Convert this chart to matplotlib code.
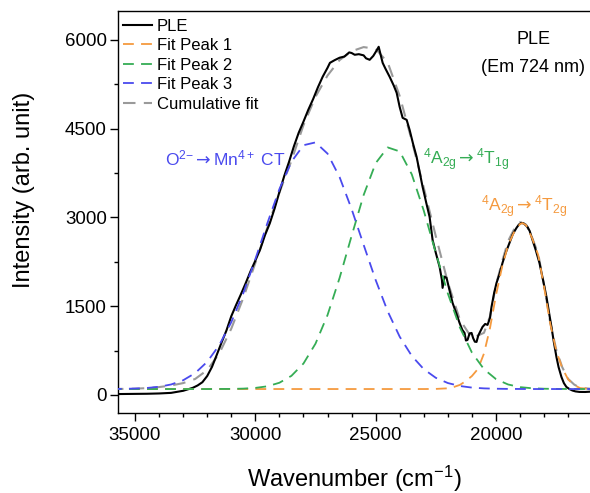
import matplotlib
matplotlib.use('Agg')
import matplotlib.pyplot as plt
from matplotlib.ticker import MultipleLocator

plt.rcParams['font.family'] = ['Liberation Sans', 'DejaVu Sans']
plt.rcParams['mathtext.fontset'] = 'custom'
plt.rcParams['mathtext.rm'] = 'Liberation Sans'
plt.rcParams['mathtext.it'] = 'Liberation Sans:italic'
plt.rcParams['mathtext.sf'] = 'DejaVu Sans'
plt.rcParams['mathtext.default'] = 'regular'

# measured PLE spectrum (wavenumber, intensity)
ple_x = [35700, 35000, 34500, 34000, 33500, 33000, 32800, 32600, 32400, 32200,
         32000, 31800, 31600, 31400, 31200, 31000, 30800, 30600, 30400, 30200,
         30000, 29800, 29600, 29400, 29200, 29000, 28800, 28600, 28400, 28200,
         28000, 27800, 27600, 27400, 27200, 27000, 26900, 26700, 26500, 26300,
         26100, 26000, 25870, 25700, 25500, 25400, 25250, 25100, 24950, 24875,
         24800, 24710, 24600, 24420, 24250, 24128, 24004, 23880, 23713, 23590,
         23450, 23300, 23050, 22900, 22760, 22635, 22500, 22344, 22250, 22220,
         22140, 22054, 21950, 21805, 21650, 21515, 21400, 21307, 21250, 21183,
         21100, 21016, 20950, 20880, 20809, 20740, 20685, 20560, 20450, 20353,
         20250, 20187, 20080, 19979, 19850, 19730, 19600, 19440, 19300, 19149,
         19050, 18942, 18850, 18693, 18600, 18485, 18350, 18195, 18050, 17904,
         17800, 17697, 17600, 17490, 17400, 17282, 17180, 17075, 16950, 16826,
         16700, 16535, 16300, 16100]
ple_y = [15, 18, 20, 25, 35, 70, 95, 120, 160, 215,
         320, 475, 680, 890, 1090, 1330, 1520, 1700, 1890, 2090,
         2270, 2460, 2700, 2900, 3150, 3430, 3700, 3940, 4200, 4430,
         4620, 4820, 5000, 5200, 5380, 5530, 5614, 5660, 5700, 5720,
         5790, 5780, 5750, 5760, 5740, 5690, 5665, 5730, 5830, 5885,
         5760, 5614, 5520, 5378, 5230, 5107, 4870, 4684, 4650, 4481,
         4250, 4025, 3517, 3250, 3010, 2621, 2400, 2165, 1950, 1810,
         2000, 1979, 1800, 1556, 1380, 1218, 1100, 1048, 920, 930,
         1040, 1048, 960, 900, 896, 1000, 1048, 1150, 1200, 1184,
         1300, 1488, 1720, 1894, 2050, 2232, 2400, 2570, 2720, 2824,
         2880, 2909, 2900, 2841, 2770, 2621, 2450, 2232, 1950, 1657,
         1400, 1150, 900, 643, 470, 304, 200, 135, 100, 75,
         60, 51, 50, 55]

# fit components
fit_x = [36000, 35500, 35000, 34500, 34000, 33500, 33000, 32500, 32000, 31500,
         31000, 30500, 30000, 29500, 29000, 28500, 28000, 27500, 27000, 26500,
         26000, 25500, 25000, 24500, 24000, 23500, 23000, 22500, 22000, 21500,
         21000, 20500, 20000, 19500, 19000, 18500, 18000, 17500, 17000, 16500,
         16000]
peak3_y = [101, 103, 108, 118, 138, 177, 248, 369, 560, 841,
           1229, 1720, 2295, 2903, 3479, 3942, 4221, 4269, 4079, 3683,
           3142, 2537, 1942, 1413, 983, 660, 435, 289, 201, 151,
           124, 111, 105, 102, 101, 100, 100, 100, 100, 100,
           100]
peak2_y = [100, 100, 100, 100, 100, 100, 100, 100, 100, 101,
           102, 107, 119, 146, 206, 323, 531, 867, 1351, 1977,
           2688, 3379, 3918, 4184, 4116, 3729, 3113, 2399, 1713, 1139,
           715, 435, 267, 177, 132, 113, 105, 102, 101, 100,
           100]

peak1_x = [36000, 23000, 22500, 22000, 21750, 21500, 21250, 21000, 20750, 20500,
           20250, 20000, 19750, 19500, 19250, 19000, 18900, 18750, 18500, 18250,
           18000, 17750, 17500, 17250, 17000, 16750, 16500, 16000]
peak1_y = [100, 100, 102, 112, 135, 170, 235, 320, 440, 700,
           1130, 1690, 2160, 2530, 2750, 2890, 2905, 2870, 2650, 2370,
           1820, 1210, 750, 455, 260, 165, 115, 100]

cum_x = [36000, 35500, 35000, 34500, 34000, 33500, 33000, 32500, 32000, 31500,
         31000, 30500, 30000, 29500, 29000, 28500, 28000, 27500, 27000, 26500,
         26000, 25500, 25000, 24500, 24000, 23500, 23000, 22500, 22000, 21500,
         21000, 20500, 20250, 20000, 19750, 19500, 19250, 19000, 18750, 18500,
         18250, 18000, 17750, 17500, 17250, 17000, 16750, 16500, 16000]
cum_y = [100, 102, 106, 115, 133, 160, 200, 270, 420, 700,
         1120, 1640, 2230, 2830, 3420, 3960, 4560, 5040, 5400, 5660,
         5810, 5880, 5850, 5620, 5050, 4300, 3500, 2680, 1900, 1270,
         960, 1050, 1330, 1860, 2250, 2600, 2800, 2920, 2880, 2660,
         2390, 1850, 1230, 770, 470, 270, 175, 120, 102]

c_orange = '#F59A3F'
c_green = '#35AD55'
c_blue = '#4A4AEE'
c_gray = '#9A9A9A'

W, H = 590, 493
fig = plt.figure(figsize=(W / 100, H / 100), dpi=100)
ax = fig.add_axes([0.2, 0.1623, 0.8, 0.8154])

dash = (0, (6, 4))
ax.plot(cum_x, cum_y, color=c_gray, lw=1.5, linestyle=dash, zorder=2)
ax.plot(ple_x, ple_y, color='black', lw=1.5, label='PLE', zorder=3)
ax.plot(peak1_x, peak1_y, color=c_orange, lw=1.3, linestyle=dash, label='Fit Peak 1', zorder=4)
ax.plot(fit_x, peak2_y, color=c_green, lw=1.3, linestyle=dash, label='Fit Peak 2', zorder=4)
ax.plot(fit_x, peak3_y, color=c_blue, lw=1.3, linestyle=dash, label='Fit Peak 3', zorder=4)
# gray legend entry (drawn line is below PLE)
ax.plot([], [], color=c_gray, lw=1.5, linestyle=dash, label='Cumulative fit')

ax.set_xlim(35706, 16095)
ax.set_ylim(-305, 6490)
ax.xaxis.set_major_locator(MultipleLocator(5000))
ax.xaxis.set_minor_locator(MultipleLocator(1000))
ax.yaxis.set_major_locator(MultipleLocator(1500))
ax.yaxis.set_minor_locator(MultipleLocator(750))
ax.tick_params(which='both', direction='out', width=1.0, labelsize=13.5)
ax.tick_params(which='major', length=6)
ax.tick_params(which='minor', length=3)
ax.tick_params(axis='y', pad=2)
ax.tick_params(axis='x', pad=4)
ax.spines['right'].set_visible(False)
for s in ['left', 'top', 'bottom']:
    ax.spines[s].set_linewidth(1.0)

ax.set_xlabel('Wavenumber (cm$^{-1}$)', fontsize=17, labelpad=14)
ax.set_ylabel('Intensity (arb. unit)', fontsize=17)
ax.yaxis.set_label_coords(-0.176, 0.555)

ax.legend(loc='upper left', bbox_to_anchor=(-0.022, 1.018), frameon=False,
          fontsize=12, handlelength=1.75, handletextpad=0.3, labelspacing=0.27)


def px_text(x, y, s, **kw):
    fig.text(x / W, 1 - y / H, s, ha='center', va='center', **kw)


arrow = r'\mathsf{\rightarrow}'
px_text(533, 40, 'PLE', fontsize=13)
px_text(533, 67, '(Em 724 nm)', fontsize=13)
px_text(225, 158, r'O$^{2{-}}' + arrow + r'$Mn$^{4+}$ CT', color=c_blue, fontsize=12.5)
px_text(466, 160, r'$^{4}$A$_{2g}' + arrow + r'^{4}$T$_{1g}$', color=c_green, fontsize=12.5)
px_text(524, 207, r'$^{4}$A$_{2g}' + arrow + r'^{4}$T$_{2g}$', color=c_orange, fontsize=12.5)

fig.savefig('out.png', dpi=100)
